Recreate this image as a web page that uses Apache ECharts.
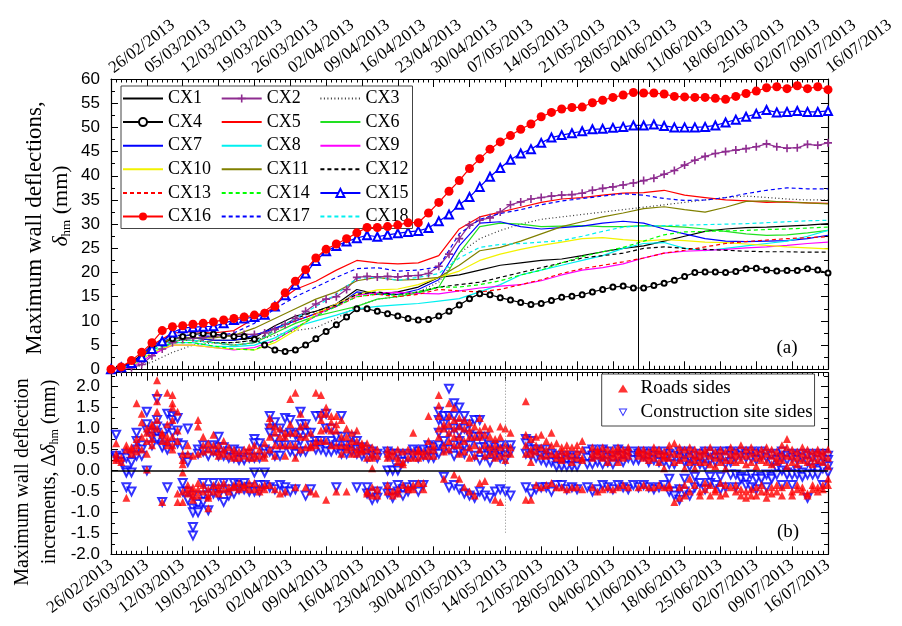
<!DOCTYPE html>
<html>
<head>
<meta charset="utf-8">
<script src="https://cdn.jsdelivr.net/npm/echarts@6/dist/echarts.min.js"></script>
<style>
  html, body { margin: 0; padding: 0; background: #fff; }
  #chart { width: 902px; height: 626px; }
</style>
</head>
<body>
<div id="chart"></div>
<script>
// Date tick labels (one per week, starting 26/02/2013); x values are days since 26/02/2013
const dateLabels = ['26/02/2013','05/03/2013','12/03/2013','19/03/2013','26/03/2013','02/04/2013',
  '09/04/2013','16/04/2013','23/04/2013','30/04/2013','07/05/2013','14/05/2013','21/05/2013',
  '28/05/2013','04/06/2013','11/06/2013','18/06/2013','25/06/2013','02/07/2013','09/07/2013','16/07/2013'];

// Sampling days for plain lines (every 4 days) and for marked lines (every 2 days)
const lineDays = [0,4,8,12,16,20,24,28,32,36,40,44,48,52,56,60,64,68,72,76,80,84,88,92,96,100,
  104,108,112,116,120,124,128,132,136,140];
const markDays = [0,2,4,6,8,10,12,14,16,18,20,22,24,26,28,30,32,34,36,38,40,42,44,46,48,50,52,54,
  56,58,60,62,64,66,68,70,72,74,76,78,80,82,84,86,88,90,92,94,96,98,100,102,104,106,108,110,112,
  114,116,118,120,122,124,126,128,130,132,134,136,138,140];

// Maximum wall deflection (mm) per inclinometer
const cx1  = [0,0.8,4.5,6.5,6.5,6,6,6.5,9,11,12,13.5,16.5,15.5,16,17,19,19.5,20.5,21.5,22,22.5,22.8,23.5,24.3,25,25.5,26.5,27.5,28.5,29,29.3,29.4,29.6,29.8,30.1];
const cx2  = [0,0,0.3,1,2.8,4.2,5.5,6.2,6.5,6.6,6.8,7,7.1,7.2,7.2,7.5,8.3,9.3,10.5,12,13.5,14.5,15,16.5,19,19.2,19.1,19.2,19.1,19.3,19.4,19.8,21.3,23.8,27,29.8,30.8,31.3,32.5,34,34.6,35.2,35.5,35.8,36,36.1,36.4,37,37.4,37.7,38.1,38.5,39,39.5,40.3,41.1,42.2,43.2,44,44.6,45,45.3,45.6,46,46.6,46,45.7,45.8,46.5,46.3,46.8];
const cx3  = [0,0.2,1.5,3.5,5,5.5,5.5,6,7,8,8.6,10.5,13,14.5,15,16,18,24,27,28.7,30,31,31.5,32,32.5,33,33.5,34,34.5,35,35.5,35.8,35.5,35.2,35,35];
const cx4  = [0,0.5,1.5,3,4.5,5.5,6.3,6.8,7.2,7.4,7.3,7,6.8,6.8,6.2,5,4,3.7,4,5,6.3,7.8,9.2,10.8,12.5,12.5,12,11.5,11,10.5,10.2,10.3,11,12,13.3,14.6,15.6,15.4,14.8,14.3,13.8,13.4,13.6,14.2,14.9,15.1,15.4,16,16.5,17,17.2,16.8,16.8,17.3,17.8,18.4,19.2,20,20.1,20.1,20,20.2,20.8,20.9,20.5,20.3,20.4,20.4,20.8,20.5,19.9];
const cx5  = [0,1,5,7.5,7.8,7.5,8,10.5,13.5,16.5,18.2,20.5,22.5,22,21.8,22,23.5,29,31.5,32.5,33.5,34.5,35.2,35.5,36,36.4,36.5,37,36,35.5,35,34.8,34.5,34.6,34.4,34.3];
const cx6  = [0,0.8,4.5,6,6,5.5,5,5.5,7.5,9.5,11,12,13,14.5,15,15.8,17,24,29.5,30.2,30,29.5,29.6,29.7,29.5,29.5,29.7,29.6,29.4,29,28.5,28,27.7,27.8,28.2,28.7];
const cx7  = [0,1,5,6.5,6.5,6,6,7,8.5,10,11.5,13,16,15.5,15.5,16.5,18.5,25.5,30.2,30.5,29.5,29,29.3,29.6,30.2,30.6,30.2,29,28,27,26.5,26.4,26.5,26.6,27,27.7];
const cx8  = [0,0.5,3.5,5.5,5.5,4.8,4.7,5,6.5,8.8,10,11.2,12.5,13,13.3,13.6,14.1,14.6,16,17.5,19.5,20.5,21.5,22.5,23.5,25,26,26.2,25,24.5,25,25.5,26,26.5,27.5,28.7];
const cx9  = [0,0.3,3,5,5,4.5,4,4.5,6,8.5,11,13.5,15.3,15.8,15.9,15.7,15.6,16.2,16.8,17.2,17.5,18.3,19.5,20.5,21,21.8,23,24,24.4,24.6,24.8,25.1,25.3,25.6,26,26.3];
const cx10 = [0,0.5,3.5,5,5,4.5,4.2,4,5.5,8,11.5,13.5,15.5,16.4,16.6,17.5,19,20.3,22.5,23.8,24.8,25.6,26.3,27,27.2,26.8,26.5,26.8,26.6,26.3,26.2,25.9,25.6,25.3,25.1,24.9];
const cx11 = [0,0.8,4.5,6.5,6.5,6.5,7,8.5,10.5,12.5,14.5,16,18.3,19,18.4,18.6,19,21.5,24.5,25.2,26.5,28,29.5,30.5,31.5,32.3,33.2,33.6,33,32.5,33.5,34.7,34.8,34.5,34.4,34.2];
const cx12 = [0,0.7,4.5,6,6,5.5,5.5,6,8,10.5,12,13.3,15.5,16,15.4,16,17,17.5,18,19,20,21,22,23,23.5,24,25,25.3,25,24.8,24.6,24.4,24.3,24.3,24.2,24.2];
const cx13 = [0,0.8,4.5,6,6,5.5,5,5.5,8,10,11.5,13,15,15.5,15,15.5,16.5,16.2,16,16.5,17.5,18.5,19.8,20.8,21.5,22.2,23,24,24.6,25.3,26,26.4,26.7,27,27.2,27.4];
const cx14 = [0,0.6,4,5.5,5.5,4.8,4.2,4,6,8.5,11,13,15,15.6,15.3,16,17,17,17.5,18.3,19.5,20.5,22,23.3,24.3,25.2,26.5,27.8,28.4,28.5,28.6,28.7,28.9,29,29.2,29.4];
const cx15 = [0,0.4,1.3,2.5,4.2,5.8,7.6,8.5,8.7,8.8,8.9,9.5,10.2,10.5,10.8,11.3,13,15.3,17.5,19.8,22.4,24.4,25.5,26.4,27.1,27.7,27.4,27.8,28.1,28.4,28.6,29.2,30.6,32,34,35.6,37.7,39.8,41.6,43.3,44.6,45.5,46.8,47.9,48.4,48.8,49.2,49.6,49.7,49.9,50.1,50.4,50.4,50.6,50.3,50,50,50,50.1,50.4,51,51.6,52.2,52.8,53.6,53.1,53.2,53.4,53.2,53.2,53.4];
const cx16 = [0,0.5,1.8,3.5,5.5,8,8.8,9,9.3,9.5,9.8,10.2,10.5,10.8,11.2,11.6,13,15.8,18.2,20.6,23,24.8,25.9,27,28.2,29.3,29.3,29.5,29.8,30.3,30.3,32.3,34.5,36.8,39,41.5,43.5,45.5,47,48.3,49.6,50.7,52.2,53.1,53.8,54.1,54.2,55.1,55.6,56.2,56.7,57.2,57.1,57.1,56.9,56.4,56.3,56.2,56.2,56,55.8,56.4,57,57.5,58.2,58.4,58,58.6,58,58.4,57.8];
const cx17 = [0,1,5,7,7,6.8,7.5,9.5,12.5,15,17,19,20.8,21,20.3,20.5,21.2,28,31,32.2,33,34,34.8,35.3,35.8,36.3,36,35.3,34.9,35,35.5,36.3,37,37.5,37.3,37.3];
const cx18 = [0,0.7,4,6,6,5.5,5,5.5,8,10.5,13,15.5,18.8,19,18.4,19,19.8,23,25.2,25.8,26,26.3,26.6,27.5,28.5,29.4,29.6,29.7,29.8,29.9,30,30.1,30.3,30.5,30.7,30.8];

// Daily increments of maximum wall deflection (mm): [day, values...]
const roadsInc = [
  [1,.4,.65,.3,.25],[2,.3,.2],[3,.6,.5,-.65],[4,.5,.4,.55],[5,1.6,.6,.45,.75],[6,1.35,1.15,.8,.5],
  [7,1.0,.9,.7,.4,.02],[8,1.1,.9,1.05,.75,.6],[9,2.15,1.85,1.65,1.4,1.2,1.0],[10,.9,.7,.85,-.75],
  [11,1.85,1.1,.8,.6,.7],[12,1.8,1.6,1.5,1.2,.8,.6,.5],[13,1.4,.95,.7,-.55,-.75],[14,.4,.25,.15,-.05,-.5,-.75],
  [15,.6,.4,-.35,-.45,-.55],[16,.35,-.4,-.6,-.7,-.5],[17,1.2,1.05,.4,-.3,-.45,-.6],[18,.8,.45,.6,-.35,-.5],
  [19,.65,.5,-.45,-.65,-.9,-.6],[20,.85,.6,.45,-.35,-.5],[21,.6,.45,.35,-.35,-.45,-.55],[22,.7,.5,.4,-.3,-.45],
  [23,.55,.35,-.4,-.5],[24,.5,.4,.3,-.35,-.4],[25,.45,.3,-.3,-.45],[26,.5,.35,-.35,-.4],[27,.45,.3,.55,-.3,-.45],
  [28,.6,.4,.3,-.3,-.45],[29,.5,.35,-.4,-.5],[30,.65,.4,.3,-.35,-.45],[31,1.25,1.1,.8,.5,-.35],
  [32,1.05,.9,.6,.35,-.45],[33,1.0,.8,.6,-.55],[34,.9,.8,.6,.35,-.5],[35,1.7,1.1,.9,.6],[36,1.85,.9,.6,.3,-.4],
  [37,1.35,1.05,.8,.5],[38,1.1,.8,.55,-.4],[39,.6,.55,.9,-.5],[40,1.85,.7,.6,-.55],[41,1.8,1.35,1.2,.95,.7],
  [42,1.5,1.35,1.0,.7,-.7],[43,1.3,1.15,.95,.6],[44,1.3,1.1,.95,.6,-.5],[45,1.2,.8,.6,.4],[46,1.0,.8,.6,.5,-.5],
  [47,.9,.7,.55,.4],[48,.95,.7,.5,.4],[49,.65,.5,.6,.45],[50,.65,.5,.3,-.5,-.55],[51,.55,.4,.3,.05,-.4,-.6],
  [52,.5,.35,-.45,-.6],[54,.5,.4,.3,-.35,-.5],[55,.45,.35,-.5,-.6],[56,.5,.3,.2,-.45,-.55],[57,.45,.2,.15,-.35],
  [58,.5,.3,-.4,-.45],[59,.9,.45,.3,-.35,-.45],[60,.5,.45,.3,-.3],[61,.45,.35,-.45,-.3],[62,1.3,.7,.5,.35],
  [63,.6,.5,.35],[64,1.8,1.55,1.3,1.0,.8],[65,1.1,1.0,.6,.45,-.2],[66,1.6,1.3,1.1,.9,.7,.5],
  [67,1.5,1.2,1.0,.8,.6,-.1],[68,1.25,1.05,.8,.6,.4,-.2],[69,1.2,1.0,.7,.45,-.4],[70,1.15,.95,.8,.55,.3,-.5],
  [71,1.05,.8,.6,.35,-.6],[72,1.25,.95,.8,.5,-.3],[73,1.05,.85,.6,.35,-.25],[74,1.0,.8,.55,.4],
  [75,.75,.6,.45,.3,-.7],[76,1.05,.8,.55,.35,-.75],[77,1.0,.6,.4,.25],[78,.9,.55,.4],
  [81,1.65,.85,.6,.4,-.7],[82,.75,.5,.4,.2,-.7],[83,.8,.6,.45,-.35],[84,.85,.55,.35,-.4],[85,.7,.5,.35,-.35],
  [86,.9,.6,.4,-.3],[87,.65,.4,.3,-.4],[88,.55,.45,.3,.25,-.4],[89,.6,.45,.35,-.45],[90,.55,.35,.2,-.4],
  [91,.6,.45,.3,-.4],[92,.7,.5,.3,.25,-.45],[94,.55,.4,.3,-.4],[95,.5,.45,.35,-.5],[96,.55,.4,.3,-.45],
  [97,.5,.35,.2,-.4],[98,.5,.4,.3,-.45],[99,.55,.45,.35,.2,-.4],[100,.5,.4,.3,-.35],[101,.55,.45,.35,-.4],
  [103,.5,.45,.35,-.4],[104,.5,.4,.3,-.35],[105,.45,.35,.25,-.4],[106,.55,.45,.3,-.4],[107,.5,.4,.2,-.35],
  [108,.45,.35,.3,.05,-.4],[109,.6,.45,.3,-.4,-.35],[110,.65,.4,.2,-.75],[111,.55,.4,.25,-.4,-.65],
  [112,.5,.3,.05,-.35,-.6],[113,.55,.4,.2,-.2,-.5],[114,.5,.35,.25,.05,-.35],[115,.45,.35,.2,-.5,-.6],
  [116,.5,.4,.2,-.3,-.45],[117,.55,.35,.15,-.35,-.6],[118,.45,.3,.1,-.5,-.45],[119,.5,.35,.2,-.3,-.6],
  [120,.45,.25,.05,-.35,-.55],[121,.55,.4,.25,-.4],[122,.45,.35,.2,-.35,-.5],[123,.6,.4,.25,-.45,-.6],
  [124,.5,.35,.15,-.5,-.65],[125,.55,.4,.2,-.45,-.6],[126,.45,.3,.1,-.4,-.6],[127,.5,.35,.25,-.35,-.5],
  [128,.55,.4,.2,-.5,-.65],[129,.5,.35,.15,-.4,-.55],[130,.45,.3,.2,-.35,-.5],[131,.6,.4,.25,-.4,-.6],
  [132,.75,.55,.35,.1,-.35],[133,.5,.35,.2,-.5,-.6],[134,.45,.3,.15,-.35,-.45],[135,.55,.4,.25,-.4,-.5],
  [136,.5,.35,.2,-.55,-.6],[137,.45,.3,.15,-.35,-.45],[138,.5,.4,.25,-.4,-.5],[139,.45,.35,.2,-.35,-.45],
  [140,.5,.3,.1,-.2,-.35]
];
const siteInc = [
  [1,.85,.3,.35],[2,.3,.2],[3,.4,.3,.0,-.05,-.4],[4,.35,.2,-.05,-.5],[5,.9,.7,.5,.35],[6,.6,.5,.35],
  [7,1.4,1.1,.95,.0],[8,.9,.8,.6],[9,1.7,1.2,.9,.75,1.05],[10,.8,.6,.55,-.75],[11,1.35,1.0,.5,-.4],
  [12,1.3,1.2,.9,.6],[13,1.25,.95,.65],[14,.6,.3,-.3,-.5],[15,1.0,.3,.2,-.5,-.7],[16,-.9,-1.0,-1.35,-1.55,-.6],
  [17,.5,.4,-.8,-.95,-1.0],[18,.6,.45,-.3,-.6,-.75],[19,.35,-.45,-.95,-.6],[20,.6,.45,-.3,-.55],
  [21,.8,.55,.35,-.45,-.6],[22,.55,.35,-.3,-.75],[23,.45,.3,-.45,-.6],[24,.5,.3,-.3,-.55],[25,.45,.25,-.45,-.35],
  [26,.3,.25,-.3,-.45],[27,.4,.3,-.4,-.5],[28,.75,.65,.3,-.05,-.5],[29,.65,.3,-.35,-.5],[30,.5,.4,-.05,-.35],
  [31,1.3,1.0,.9,.45,-.4],[32,1.15,.75,.35,-.45],[33,1.0,.6,.35,-.35],[34,1.25,.85,.6,-.4,-.5],[35,1.2,.9,.45,-.5],
  [36,.85,.6,.4,-.45],[37,1.4,1.1,.9,.7,.45],[38,1.1,.9,.45,-.6],[39,.9,.6,-.45],[40,1.3,.7,.6,.5],
  [41,1.3,.7,.6,.5],[42,1.35,1.0,.55,.45],[43,1.0,.7,.45],[44,.8,.6,.5,-.4],[45,1.3,.8,.5,.4],[46,.6,.5,.4],
  [47,.8,.6,.45],[48,.7,.5,.4,-.4],[49,.55,.45,.35],[50,.5,.4,.3,-.4,-.55],[51,.45,.35,-.55,-.7],[52,.4,.3,-.5,-.65],
  [54,.45,.35,.0,-.4,-.55],[55,.4,.3,.0,-.55,-.65],[56,.4,.05,.0,-.35,-.5],[57,.35,.2,-.45,-.6],[58,.4,.3,-.4,-.5],
  [59,.5,.35,-.35],[60,.45,.3,-.5],[61,.5,.35,-.35],[62,.6,.3,.45],[63,.55,.4,.3],[64,1.4,1.2,.9,.6,.4],
  [65,1.3,1.1,.7,.5,-.15],[66,1.95,1.3,.9,.5,-.4],[67,1.6,1.3,1.0,.6,.35,-.35],[68,1.5,1.1,.9,.7,.45,-.45],
  [69,1.3,1.0,.6,.4,-.55],[70,1.1,.85,.6,-.6],[71,1.2,.8,.35,-.65],[72,1.2,.8,.55,.25,-.5],[73,.8,.55,.35,-.6],
  [74,.6,.45,.2,-.65],[75,.55,.4,.35,-.5],[76,.6,.45,.3,-.45],[77,.5,.35,.25,-.5],[78,.6,.45,-.6],
  [81,.75,.65,.4,-.4],[82,.7,.5,.35,-.55],[83,.5,.4,.3,-.45],[84,.45,.35,.25,-.4],[85,.5,.3,.2,-.4],
  [86,.4,.3,.2,-.5],[87,.35,.2,.1,-.35],[88,.3,.2,.1,-.35],[89,.35,.25,.1,-.45],[90,.3,.2,.1,-.4],
  [91,.35,.2,.1,-.45],[93,.45,.3,.15,-.4],[94,.5,.35,.15,-.5],[95,.4,.3,.2,-.45],[96,.5,.35,.15,-.35],
  [97,.45,.3,.2,-.4],[98,.35,.25,.15,-.45],[99,.5,.3,-.35],[100,.45,.35,.2,-.4],[101,.4,.3,-.45],
  [102,.45,.35,.25,-.35],[103,.4,.3,.25,-.4],[104,.45,.35,-.35],[105,.4,.3,.2,-.4],[106,.45,.35,.25,-.45],
  [107,.35,.3,.2,-.4],[108,.45,.3,.2,-.35],[109,.4,.15,-.2,-.5],[110,.35,.15,-.5,-.6],[111,.45,.3,-.45,-.7],
  [112,.4,.2,-.2,-.5],[113,.45,.3,.1,-.6],[114,.35,.2,-.15,-.4],[115,.4,.3,.15,-.3],[116,.45,.3,.1,-.45],
  [117,.4,.25,-.15,-.3],[118,.45,.3,.2,-.35],[119,.4,.3,-.15,-.45],[120,.45,.3,.15,-.4],[121,.45,.35,.2,-.1],
  [122,.4,.3,-.1,-.4],[123,.45,.35,-.15,-.2],[124,.4,.3,-.2,-.35],[125,.45,.3,-.1,-.4],[126,.4,.25,-.2,-.45],
  [127,.45,.35,-.15,-.2],[128,.4,.3,-.1,-.4],[129,.35,.2,-.15,-.2],[130,.4,.25,.05,-.1],[131,.45,.3,.0,-.35],
  [132,.35,.25,-.05,-.1],[133,.4,.3,-.1,-.35],[134,.35,.25,.0,-.1],[135,.4,.3,-.05,-.15],[136,.35,.2,-.1,-.65],
  [137,.4,.3,.05,-.1],[138,.35,.25,.0,-.1],[139,.4,.3,.05,-.35],[140,.35,.25,.1,-.05]
];

const SERIF = '"Liberation Serif", "Times New Roman", serif';
const SANS = '"Liberation Sans", Arial, sans-serif';

function pairs(xs, ys) { return ys.map((y, i) => [xs[i], y]); }
function flatten(groups) {
  const out = [];
  groups.forEach(g => { for (let j = 1; j < g.length; j++) out.push([g[0], g[j]]); });
  return out;
}

const plusPath = 'path://M4,0H6V4H10V6H6V10H4V6H0V4H4Z';
// Hollow downward triangle (outer outline minus inner, opposite winding)
const hollowDownTri = 'path://M0,0L10,0L5,9Z M1.9,1.1L5,6.8L8.1,1.1Z';

function lineSeries(name, xs, ys, color, dash, extra) {
  return Object.assign({
    name: name, type: 'line', xAxisIndex: 0, yAxisIndex: 0,
    data: pairs(xs, ys), symbol: 'none', smooth: false,
    lineStyle: { color: color, width: 1.2, type: dash || 'solid' },
    itemStyle: { color: color },
    z: 3
  }, extra || {});
}

const topSeries = [
  lineSeries('CX1', lineDays, cx1, '#000000', 'solid', {
    markLine: { silent: true, symbol: 'none', label: { show: false },
      lineStyle: { color: '#000', width: 1, type: 'solid' }, data: [{ xAxis: 103 }] }
  }),
  lineSeries('CX2', markDays, cx2, '#8e2c90', 'solid', { symbol: plusPath, symbolSize: 8, showSymbol: true }),
  lineSeries('CX3', lineDays, cx3, '#333333', [1, 2.5]),
  lineSeries('CX4', markDays, cx4, '#000000', 'solid', { symbol: 'emptyCircle', symbolSize: 5, showSymbol: true }),
  lineSeries('CX5', lineDays, cx5, '#ff0000'),
  lineSeries('CX6', lineDays, cx6, '#22e022'),
  lineSeries('CX7', lineDays, cx7, '#0000ff'),
  lineSeries('CX8', lineDays, cx8, '#00f0f0'),
  lineSeries('CX9', lineDays, cx9, '#ff00ff'),
  lineSeries('CX10', lineDays, cx10, '#f2f200'),
  lineSeries('CX11', lineDays, cx11, '#808000'),
  lineSeries('CX12', lineDays, cx12, '#000000', [4, 3]),
  lineSeries('CX13', lineDays, cx13, '#ff0000', [4, 3]),
  lineSeries('CX14', lineDays, cx14, '#00ff00', [4, 3]),
  lineSeries('CX15', markDays, cx15, '#0000ff', 'solid', { symbol: 'emptyTriangle', symbolSize: 8, showSymbol: true }),
  lineSeries('CX16', markDays, cx16, '#ff0000', 'solid', { symbol: 'circle', symbolSize: 9, showSymbol: true, z: 4 }),
  lineSeries('CX17', lineDays, cx17, '#0000ff', [4, 3]),
  lineSeries('CX18', lineDays, cx18, '#00f0f0', [4, 3])
];

// Legend entries: plain lines show only their stroke
const topLegendData = topSeries.map(s => s.symbol === 'none'
  ? { name: s.name, itemStyle: { opacity: 0 } }
  : { name: s.name });

const bottomSeries = [
  {
    name: 'Construction site sides', type: 'scatter', xAxisIndex: 2, yAxisIndex: 2, z: 2,
    data: flatten(siteInc), symbol: 'emptyTriangle', symbolRotate: 180, symbolSize: 8, symbolKeepAspect: true,
    itemStyle: { color: '#0000ff', borderWidth: 1 }
  },
  {
    name: 'Roads sides', type: 'scatter', xAxisIndex: 2, yAxisIndex: 2, z: 3,
    data: flatten(roadsInc), symbol: 'triangle', symbolSize: 8, symbolKeepAspect: true,
    itemStyle: { color: '#ff0000' },
    markLine: {
      silent: true, symbol: 'none', label: { show: false },
      data: [
        { yAxis: 0, lineStyle: { color: '#000', width: 1.5, type: 'solid' } },
        [{ coord: [77, 2.33], lineStyle: { color: '#888', width: 1, type: [1, 2] } }, { coord: [77, -1.5] }]
      ]
    }
  }
];

function dateAxis(gridIndex, position, showLabels, rotate) {
  return {
    type: 'value', gridIndex: gridIndex, position: position,
    min: 0, max: 140, interval: 7,
    axisLine: { show: true, onZero: false, lineStyle: { color: '#000', width: 1.2 } },
    axisTick: { show: true, inside: true, length: 8, lineStyle: { color: '#000', width: 1 } },
    minorTick: { show: true, splitNumber: 7, length: 3.5, lineStyle: { color: '#000', width: 1 } },
    splitLine: { show: false },
    axisLabel: {
      show: showLabels, rotate: rotate, margin: 9, color: '#000',
      fontFamily: SERIF, fontSize: 17,
      formatter: v => dateLabels[Math.round(v / 7)] || ''
    }
  };
}

function valueAxis(gridIndex, position, min, max, interval, showLabels, fmt) {
  return {
    type: 'value', gridIndex: gridIndex, position: position,
    min: min, max: max, interval: interval,
    axisLine: { show: true, onZero: false, lineStyle: { color: '#000', width: 1.2 } },
    axisTick: { show: true, inside: true, length: 7, lineStyle: { color: '#000', width: 1 } },
    minorTick: { show: true, splitNumber: 2, length: 4, lineStyle: { color: '#000', width: 1 } },
    splitLine: { show: false },
    axisLabel: {
      show: showLabels, margin: 11, color: '#000', fontFamily: SANS, fontSize: 17,
      showMaxLabel: max % interval === 0, formatter: fmt
    }
  };
}

const option = {
  animation: false,
  backgroundColor: '#ffffff',
  grid: [
    { left: 111, right: 74, top: 79, height: 290.3, show: false },
    { left: 111, right: 74, top: 372.7, height: 181.6, show: false }
  ],
  xAxis: [
    dateAxis(0, 'top', true, -37),
    dateAxis(0, 'bottom', false, 0),
    dateAxis(1, 'bottom', true, 37),
    dateAxis(1, 'top', false, 0)
  ],
  yAxis: [
    valueAxis(0, 'left', 0, 60, 5, true, v => String(v)),
    valueAxis(0, 'right', 0, 60, 5, false),
    valueAxis(1, 'left', -2, 2.33, 0.5, true, v => v.toFixed(1)),
    valueAxis(1, 'right', -2, 2.33, 0.5, false)
  ],
  legend: [
    {
      data: topLegendData,
      left: 121, top: 86, width: 300, orient: 'horizontal',
      itemWidth: 40, itemHeight: 10, itemGap: 5.6,
      padding: [3.5, 0, 3, 1],
      backgroundColor: '#fff', borderColor: '#444', borderWidth: 1,
      textStyle: { fontFamily: SERIF, fontSize: 18, color: '#000', width: 47.1, lineHeight: 14 },
      selectedMode: false
    },
    {
      data: [
        { name: 'Roads sides' },
        { name: 'Construction site sides', icon: hollowDownTri }
      ],
      left: 601.7, top: 374, orient: 'vertical',
      itemWidth: 10, itemHeight: 8, itemGap: 5,
      padding: [5, 2, 4, 16.3],
      backgroundColor: '#fff', borderColor: '#444', borderWidth: 1,
      textStyle: { fontFamily: SERIF, fontSize: 19, color: '#000', lineHeight: 19, padding: [0, 0, 0, 7.5] },
      selectedMode: false
    }
  ],
  graphic: [
    { type: 'text', x: 35, y: 228, rotation: Math.PI / 2,
      style: { text: 'Maximum wall deflections,', fill: '#000', font: '23px ' + SERIF,
        align: 'center', verticalAlign: 'middle', textAlign: 'center', textVerticalAlign: 'middle' } },
    { type: 'text', x: 61, y: 206, rotation: Math.PI / 2,
      style: { text: '{d|δ}{s|hm}{n| (mm)}', fill: '#000', font: '22px ' + SERIF,
        align: 'center', verticalAlign: 'middle', textAlign: 'center', textVerticalAlign: 'middle',
        rich: {
          d: { fontFamily: SERIF, fontSize: 22, fontStyle: 'italic', fill: '#000' },
          s: { fontFamily: SERIF, fontSize: 13, fill: '#000', padding: [11, 0, 0, 0] },
          n: { fontFamily: SERIF, fontSize: 22, fill: '#000' }
        } } },
    { type: 'text', x: 23, y: 482, rotation: Math.PI / 2,
      style: { text: 'Maximum wall deflection', fill: '#000', font: '20px ' + SERIF,
        align: 'center', verticalAlign: 'middle', textAlign: 'center', textVerticalAlign: 'middle' } },
    { type: 'text', x: 50, y: 472, rotation: Math.PI / 2,
      style: { text: '{n|increments, Δ}{d|δ}{s|hm}{n| (mm)}', fill: '#000', font: '20px ' + SERIF,
        align: 'center', verticalAlign: 'middle', textAlign: 'center', textVerticalAlign: 'middle',
        rich: {
          d: { fontFamily: SERIF, fontSize: 20, fontStyle: 'italic', fill: '#000' },
          s: { fontFamily: SERIF, fontSize: 12, fill: '#000', padding: [10, 0, 0, 0] },
          n: { fontFamily: SERIF, fontSize: 20, fill: '#000' }
        } } },
    { type: 'text', x: 787, y: 348,
      style: { text: '(a)', fill: '#000', font: '19px ' + SERIF,
        align: 'center', verticalAlign: 'middle', textAlign: 'center', textVerticalAlign: 'middle' } },
    { type: 'text', x: 788, y: 532,
      style: { text: '(b)', fill: '#000', font: '19px ' + SERIF,
        align: 'center', verticalAlign: 'middle', textAlign: 'center', textVerticalAlign: 'middle' } }
  ],
  series: topSeries.concat(bottomSeries)
};

const chart = echarts.init(document.getElementById('chart'), null, { renderer: 'canvas' });
chart.setOption(option);
</script>
</body>
</html>
